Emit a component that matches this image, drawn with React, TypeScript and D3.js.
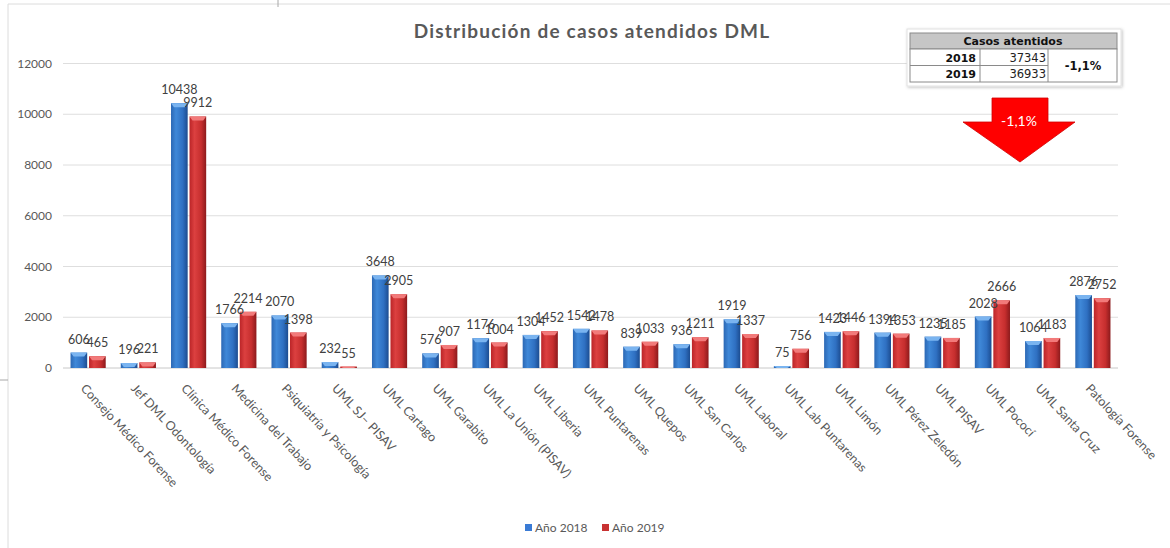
import React from "react";
import * as d3 from "d3";

const categories = [
  "Consejo Médico Forense",
  "Jef DML Odontología",
  "Clínica Médico Forense",
  "Medicina del Trabajo",
  "Psiquiatría y Psicología",
  "UML SJ– PISAV",
  "UML Cartago",
  "UML Garabito",
  "UML La Unión (PISAV)",
  "UML Liberia",
  "UML Puntarenas",
  "UML Quepos",
  "UML San Carlos",
  "UML Laboral",
  "UML Lab Puntarenas",
  "UML Limón",
  "UML Pérez Zeledón",
  "UML PISAV",
  "UML Pococí",
  "UML Santa Cruz",
  "Patología Forense",
];
const values2018 = [606, 196, 10438, 1766, 2070, 232, 3648, 576, 1176, 1304, 1542, 839, 936, 1919, 75, 1423, 1394, 1235, 2028, 1064, 2876];
const values2019 = [465, 221, 9912, 2214, 1398, 55, 2905, 907, 1004, 1452, 1478, 1033, 1211, 1337, 756, 1446, 1353, 1185, 2666, 1183, 2752];
const seriesNames = ["Año 2018", "Año 2019"];
const yTicks = [0, 2000, 4000, 6000, 8000, 10000, 12000];
const title = "Distribución de casos atendidos DML";
const tableHeader = "Casos atentidos";
const tableYears = ["2018", "2019"];
const tableTotals = ["37343", "36933"];
const changeLabel = "-1,1%";
const tableChangeLabel = "-1,1%";

const W = 1170;
const H = 548;
const FONT = "Lato, 'Open Sans', sans-serif";

export default function App() {
  const x0 = d3.scaleBand<string>().domain(categories).range([63, 1118]).paddingInner(0.3).paddingOuter(0.15);
  const x1 = d3.scaleBand<string>().domain(["0", "1"]).range([0, x0.bandwidth()]).paddingInner(0.1);
  const y = d3.scaleLinear().domain([0, 12000]).range([368, 63.5]);
  const series = [values2018, values2019];
  const grads = ["gBlue", "gRed"];
  const caps = ["#7ab4f0", "#f27a7a"];
  const legendColors = ["#3a7bd5", "#c83232"];

  return (
    <svg width={W} height={H} style={{ position: "absolute", left: 0, top: 0, background: "#fff" }} fontFamily={FONT}>
      <defs>
        <linearGradient id="gBlue" x1="0" x2="1" y1="0" y2="0">
          <stop offset="0" stopColor="#2c68b4" />
          <stop offset="0.3" stopColor="#3f88d8" />
          <stop offset="0.7" stopColor="#2f70c2" />
          <stop offset="1" stopColor="#1c4c90" />
        </linearGradient>
        <linearGradient id="gRed" x1="0" x2="1" y1="0" y2="0">
          <stop offset="0" stopColor="#bb2528" />
          <stop offset="0.3" stopColor="#dc4040" />
          <stop offset="0.7" stopColor="#c62e2e" />
          <stop offset="1" stopColor="#8c1a1c" />
        </linearGradient>
        <filter id="shadow" x="-10%" y="-10%" width="120%" height="130%">
          <feDropShadow dx="1" dy="1" stdDeviation="1.5" floodColor="#000" floodOpacity="0.25" />
        </filter>
      </defs>

      {/* frame artifacts */}
      <line x1={8} y1={4} x2={W} y2={4} stroke="#dcdcdc" />
      <line x1={8} y1={4} x2={8} y2={H} stroke="#dcdcdc" />
      <line x1={0} y1={380} x2={8} y2={380} stroke="#a8a8a8" />
      <line x1={278} y1={0} x2={278} y2={7} stroke="#a8a8a8" />

      {/* title */}
      <text x={592} y={38} textAnchor="middle" fontSize={19} fontWeight="bold" letterSpacing={1.2} fill="#595959">{title}</text>

      {/* grid */}
      {yTicks.map((t) => (
        <g key={t}>
          <line x1={63} x2={1118} y1={y(t)} y2={y(t)} stroke={t === 0 ? "#c8c8c8" : "#dedede"} />
          <text x={52} y={y(t)} dy="0.35em" textAnchor="end" fontSize={12} fill="#595959">{t}</text>
        </g>
      ))}

      {/* bars */}
      {categories.map((c, i) => (
        <g key={c}>
          {series.map((vals, s) => {
            const bx = (x0(c) as number) + (x1(String(s)) as number);
            const bw = x1.bandwidth();
            const top = y(vals[i]);
            const h = y(0) - top;
            const capH = Math.min(4, h);
            return (
              <g key={s}>
                <rect x={bx} y={top} width={bw} height={h} fill={`url(#${grads[s]})`} />
                <path
                  d={`M${bx},${top}L${bx + bw},${top}L${bx + bw - 3},${top + capH}L${bx + 3},${top + capH}Z`}
                  fill={caps[s]}
                />
              </g>
            );
          })}
        </g>
      ))}

      {/* data labels */}
      {categories.map((c, i) => (
        <g key={c + "l"}>
          {series.map((vals, s) => {
            const cx = (x0(c) as number) + (x1(String(s)) as number) + x1.bandwidth() / 2;
            return (
              <text key={s} x={cx} y={y(vals[i]) - 9} textAnchor="middle" fontSize={12.5} fill="#404040">
                {vals[i]}
              </text>
            );
          })}
        </g>
      ))}

      {/* x labels */}
      {categories.map((c) => {
        const cx = (x0(c) as number) + x0.bandwidth() / 2;
        return (
          <text key={c + "x"} transform={`translate(${cx - 8},${389}) rotate(47)`} fontSize={12.5} fill="#595959">
            {c}
          </text>
        );
      })}

      {/* legend */}
      {seriesNames.map((n, s) => {
        const lx = s === 0 ? 525 : 602;
        return (
          <g key={n}>
            <rect x={lx} y={524} width={7} height={7} fill={legendColors[s]} />
            <text x={lx + 10} y={532} fontSize={12} fill="#595959">{n}</text>
          </g>
        );
      })}

      {/* table */}
      <g fontFamily="'DejaVu Sans', Verdana, sans-serif">
        <rect x={907} y={29} width={214} height={57} fill="#fff" stroke="#e2e2e2" filter="url(#shadow)" />
        <rect x={910} y={33} width={207} height={16} fill="#c6c6c6" stroke="#8a8a8a" />
        <rect x={910} y={49} width={207} height={33} fill="#fff" stroke="#8a8a8a" />
        <line x1={910} x2={1048} y1={65.5} y2={65.5} stroke="#8a8a8a" />
        <line x1={980} x2={980} y1={49} y2={82} stroke="#8a8a8a" />
        <line x1={1048} x2={1048} y1={49} y2={82} stroke="#8a8a8a" />
        <text x={1013} y={45} textAnchor="middle" fontSize={11} fontWeight="bold" fill="#111">{tableHeader}</text>
        {tableYears.map((yr, k) => (
          <g key={yr}>
            <text x={976} y={61.5 + k * 16.5} textAnchor="end" fontSize={11} fontWeight="bold" fill="#111">{yr}</text>
            <text x={1046} y={61.5 + k * 16.5} textAnchor="end" fontSize={11.5} fill="#222">{tableTotals[k]}</text>
          </g>
        ))}
        <text x={1083} y={70} textAnchor="middle" fontSize={11.5} fontWeight="bold" fill="#111">{tableChangeLabel}</text>
      </g>

      {/* arrow */}
      <polygon
        points="992,98 1048,98 1048,122 1075,122 1020,162 963,122 992,122"
        fill="#ff0000"
        stroke="#d00000"
        strokeWidth={0.8}
      />
      <text x={1019} y={126} textAnchor="middle" fontSize={14} fill="#fff">{changeLabel}</text>
    </svg>
  );
}
